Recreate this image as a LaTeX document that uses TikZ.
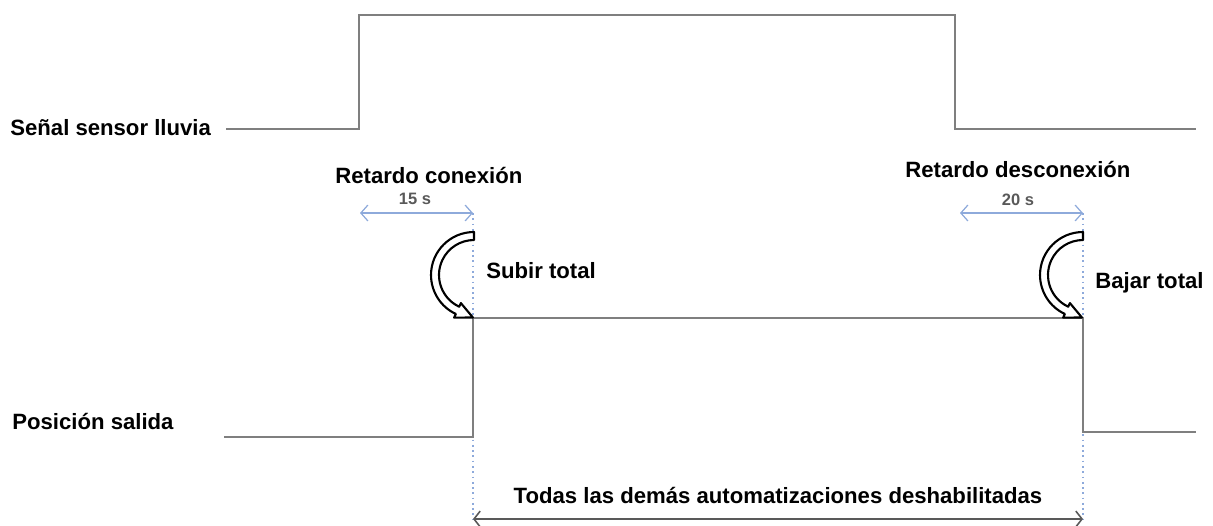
\documentclass[tikz,border=0pt]{standalone}
\usepackage{fontspec}
\setmainfont{Liberation Sans}
\usetikzlibrary{arrows.meta,calc}
\definecolor{wave}{HTML}{7F7F7F}
\definecolor{dimblue}{HTML}{8EAADB}
\definecolor{dimtext}{HTML}{595959}
\definecolor{spanline}{HTML}{595959}
\tikzset{
  lbl/.style={inner sep=0pt, font=\bfseries\fontsize{12.6}{15}\selectfont, text=black},
  small/.style={inner sep=0pt, font=\bfseries\fontsize{9.4}{11}\selectfont, text=dimtext},
  waveline/.style={draw=wave, line width=1.1pt, line join=miter},
  outline/.style={draw=wave, line width=0.85pt, line join=miter},
  dimarrow/.style={draw=dimblue, line width=0.7pt, {Straight Barb[length=4pt,width=9pt]}-{Straight Barb[length=4pt,width=9pt]}},
  guide/.style={draw=dimblue, line width=0.6pt, dash pattern=on 1pt off 2pt},
  spanarrow/.style={draw=spanline, line width=0.9pt, {Straight Barb[length=3.5pt,width=9pt]}-{Straight Barb[length=3.5pt,width=9pt]}},
  turnarrow/.pic={
    \draw[black, line width=1.2pt, fill=white, line join=round]
      (90:0.86cm) arc[start angle=90, end angle=245, radius=0.86cm]
      -- (245:0.94cm) -- ([shift={(335:0.34cm)}]245:0.78cm) -- (245:0.62cm) -- (245:0.70cm)
      arc[start angle=245, end angle=90, radius=0.70cm] -- cycle;
  }
}
\begin{document}
\begin{tikzpicture}[x=0.02cm, y=0.02cm]
\useasboundingbox (0,0) rectangle (1213,525);
% labels
\node[lbl, anchor=base west] (sensorlbl) at (10,390) {Señal sensor lluvia};
\node[lbl, anchor=base west] (poslbl) at (12,96) {Posición salida};
\node[lbl, anchor=base west] (retcon) at (335,342) {Retardo conexión};
\node[lbl, anchor=base west] (retdes) at (905,348) {Retardo desconexión};
\node[small, anchor=base] (t15) at (415,321) {15 s};
\node[small, anchor=base] (t20) at (1018,320) {20 s};
\node[lbl, anchor=base west] (subir) at (486,247) {Subir total};
\node[lbl, anchor=base west] (bajar) at (1095,237) {Bajar total};
\node[lbl, anchor=base] (todas) at (778,22) {Todas las demás automatizaciones deshabilitadas};
% coordinates
\coordinate (s0) at (226,396);
\coordinate (s1) at (359,396);
\coordinate (s2) at (359,510);
\coordinate (s3) at (955,510);
\coordinate (s4) at (955,396);
\coordinate (s5) at (1196,396);
\coordinate (o0) at (224,88);
\coordinate (o1) at (473,88);
\coordinate (o2) at (473,207);
\coordinate (o3) at (1083,207);
\coordinate (o4) at (1083,93);
\coordinate (o5) at (1196,93);
\coordinate (ga) at (473,312);
\coordinate (gb) at (473,6);
\coordinate (gc) at (1083,312);
\coordinate (gd) at (1083,6);
\coordinate (da) at (360,312);
\coordinate (db) at (960,312);
% guides
\draw[guide] (ga) -- (gb);
\draw[guide] (gc) -- (gd);
% waveforms
\draw[waveline] (s0) -- (s1) -- (s2) -- (s3) -- (s4) -- (s5);
\draw[outline] (o0) -- (o1) -- (o2) -- (o3) -- (o4) -- (o5);
% dimension arrows
\draw[dimarrow] (da) -- (ga);
\draw[dimarrow] (db) -- (gc);
\draw[spanarrow] (gb) -- (gd);
% curved arrows
\pic at (474,250) {turnarrow};
\pic at (1083,250) {turnarrow};
\end{tikzpicture}
\end{document}
